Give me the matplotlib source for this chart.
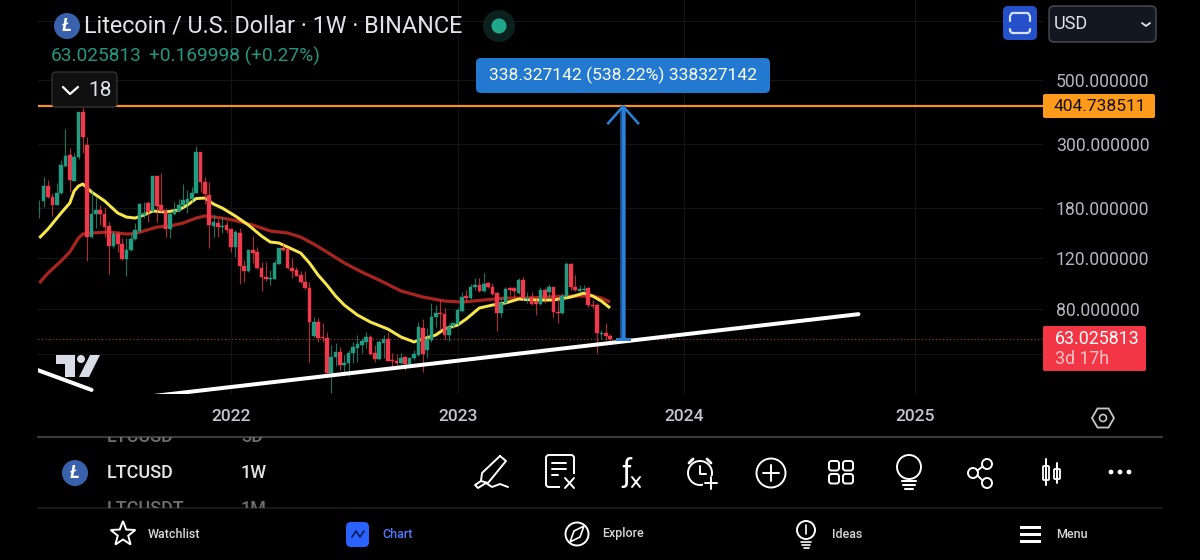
import numpy as np
import pandas as pd
import matplotlib
matplotlib.use('Agg')
import matplotlib.pyplot as plt
import matplotlib.dates as mdates
from matplotlib.patches import Circle, FancyBboxPatch, Polygon, Rectangle

plt.rcParams['font.family'] = ['Roboto', 'DejaVu Sans']

# weekly LTC candles, first bar 2021-03-01
first_week = '2021-03-01'
candle_open = [
    176.7, 190, 214, 196, 184, 202.3, 251, 274.5, 223, 269.6,
    387, 297, 142.4, 171, 176.7, 171, 155.5, 132.5, 145.8, 134.6,
    119.4, 128.3, 140.1, 149.4, 169.8, 186.8, 175.3, 232, 184, 175.3,
    151.8, 171, 175.3, 184, 186.8, 193, 202.3, 281, 221, 199.3,
    155.5, 159.2, 154.2, 156.7, 151.8, 131.5, 147, 113, 108.6, 128.3,
    126.3, 111.2, 103.5, 101.9, 101.9, 114.8, 130.4, 129.3, 111.2, 109.4,
    105.2, 99.4, 94.8, 64.5, 72.2, 64, 63.5, 48, 54.6, 56.8,
    51.2, 52, 56.4, 58.7, 60, 61.5, 64, 56.4, 53.7, 61,
    63, 53.2, 52.8, 52, 54.6, 51.6, 54.2, 55.5, 68.8, 57.7,
    62.5, 75.1, 77.6, 76.9, 65, 69.9, 71, 78.8, 88.9, 87.5,
    95.5, 97, 92.5, 98.6, 95.5, 91, 77.6, 84, 94.8, 94.8,
    91, 101, 86.8, 88.2, 84.6, 83.3, 93.2, 91.8, 95.5, 78.2,
    77.6, 88.9, 114.8, 95.5, 92.5, 93.2, 94.8, 82.7, 82.7, 65.6,
    66.2, 64.5]
candle_high = [
    191.4, 230, 224.7, 202.3, 219.3, 263.6, 338, 290, 279, 387,
    403, 316.8, 207.4, 196, 184, 181, 160.5, 149.4, 149.4, 141.3,
    141.3, 145.8, 159.2, 186.8, 188.3, 190, 232, 232, 237.5, 179.5,
    174, 188.3, 193, 217.5, 207.4, 212.5, 295, 281, 230, 221,
    171, 164.4, 167, 161.8, 151.8, 150.6, 153, 118.5, 128.3, 143.5,
    131.5, 116.6, 116.6, 109.4, 118.5, 130.4, 135.7, 130.4, 120.4, 112,
    108.6, 108.6, 99.4, 75.1, 74.5, 71.6, 66.7, 60, 61, 59.1,
    55.5, 57.7, 61.5, 65, 63.5, 66.7, 65, 60, 62.5, 65,
    66.7, 56.4, 56, 56.4, 55, 54.6, 57.7, 72.2, 73.9, 68.8,
    84, 82.7, 86, 80.7, 71.6, 72.2, 80.7, 91.8, 93.2, 97.8,
    102.7, 102.7, 106.9, 99.4, 98.6, 91.8, 88.2, 95.5, 95.5, 95.5,
    102.7, 103.5, 91.8, 91.8, 87.5, 95.5, 94.8, 97.8, 95.5, 87.5,
    91, 116.6, 115.7, 105.2, 97, 97, 95.5, 86, 84, 67.7,
    71.6, 65.6]
candle_low = [
    165.7, 181, 194.5, 168.4, 184, 200.8, 249, 204, 223, 265,
    279, 117.5, 141.3, 153, 156.7, 142.4, 106, 130.4, 126.3, 118.5,
    104.4, 127.3, 139, 148.2, 165.7, 160.5, 174, 160.5, 174, 142.4,
    141.3, 169.8, 174, 181, 172.5, 188.3, 202.3, 204, 185.3, 130.4,
    142.4, 142.4, 147, 147, 126.3, 121.4, 97.8, 99.4, 107.7, 115.7,
    110.3, 92.5, 100.2, 97, 101.9, 114.8, 127.3, 110.3, 102.7, 104.4,
    98.6, 94, 52.4, 64, 61.5, 61.5, 48, 40.9, 50.8, 49.1,
    48.4, 46.9, 52, 52.4, 56.4, 58.7, 55.5, 52.4, 53.2, 54.2,
    52.8, 50.8, 51.2, 51.6, 49.1, 50.4, 53.2, 55, 48.4, 54.2,
    61.5, 69.4, 67.7, 62.5, 62, 68.8, 70.4, 78.2, 84.6, 86.8,
    93.2, 91.8, 91.8, 94.8, 89.6, 67.2, 75.1, 84, 89.6, 87.5,
    90.3, 86, 84, 82.7, 76.3, 82.7, 84, 87.5, 75.1, 71.6,
    76.9, 88.2, 93.2, 92.5, 91.8, 91.8, 81.4, 80.7, 56.4, 63,
    62.5, 62.5]
candle_close = [
    176.7, 214, 196, 184, 202.3, 253, 272, 224.7, 269.6, 387,
    316.8, 142.4, 171, 176.7, 171, 154.2, 132.5, 145.8, 134.6, 119.4,
    128.3, 140.1, 150.6, 185.3, 172.5, 174, 232, 182.4, 175.3, 151.8,
    171, 175.3, 184, 191.4, 193, 202.3, 281, 221, 200.8, 156.7,
    160.5, 154.2, 155.5, 150.6, 131.5, 148.2, 113, 108.6, 128.3, 125.2,
    111.2, 103.5, 101.9, 102.7, 115.7, 130.4, 128.3, 111.2, 108.6, 104.4,
    99.4, 94.8, 72.2, 72.2, 63.5, 63.5, 48, 54.6, 56.8, 51.2,
    52, 56.4, 59.1, 60.5, 62, 64, 56, 53.7, 61.5, 63,
    52.8, 52.8, 52, 54.2, 51.6, 54.2, 56, 69.4, 56, 63,
    75.1, 77.6, 76.9, 65, 69.4, 71.6, 79.4, 88.2, 87.5, 95.5,
    97, 92.5, 97.8, 95.5, 90.3, 77.6, 84, 94, 93.2, 92.5,
    101, 87.5, 87.5, 83.3, 83.3, 93.2, 87.5, 95.5, 78.2, 77.6,
    88.9, 114.8, 95.5, 93.2, 94, 94, 82.7, 82, 66.2, 66.2,
    64.5, 63.03]

# moving averages, read at these bar numbers
ema_weeks = [0, 2, 5, 7, 8, 9, 10, 12, 15, 18, 20, 22, 24, 26, 29, 32, 34, 36, 38, 40,
             42, 45, 48, 51, 53, 55, 58, 60, 62, 64, 66, 68, 70, 73, 76, 80, 83, 86, 88, 91,
             93, 96, 98, 101, 104, 107, 110, 114, 118, 122, 125, 127, 129, 131]
ema_values = [141.3, 151.8, 172.5, 186.8, 205.7, 214.1, 217.5, 204.1, 189.9, 172.5,
              167, 165.7, 169.8, 175.3, 173.9, 176.7, 183.9, 193.7, 194.5, 185.3,
              179.5, 168.4, 156.7, 143.5, 136.8, 135.7, 129.3, 125.2, 115.7, 105,
              97, 88.8, 82.6, 76.3, 72.1, 68.2, 64, 61.5, 63, 65,
              68.2, 70.4, 73.9, 80.7, 82.6, 84, 86.7, 86, 86, 88.1,
              90.9, 88.8, 85.3, 80.7]
ma_weeks = [0, 2, 5, 7, 9, 10, 12, 16, 20, 22, 24, 27, 30, 33, 36, 38, 42, 45, 49, 53,
            57, 60, 63, 66, 70, 74, 78, 83, 88, 93, 97, 102, 107, 112, 117, 122, 127, 129, 131]
ma_values = [98.5, 106.7, 117.5, 126.3, 141.3, 145.8, 147, 148.2, 145.8, 146.4,
             149.4, 154.2, 155.5, 159.2, 165.7, 168.4, 165.7, 162.4, 156.7, 149.4,
             147, 142.3, 134.6, 126.3, 115.7, 107.6, 100.9, 92.5, 88.1, 85.3,
             84.6, 86, 87.4, 87.4, 88.1, 88.8, 88.8, 87.4, 84.6]

# drawings on the chart
trend_dates = ['2021-07-05', '2024-10-07']
trend_prices = [38.6, 76.8]
old_trend_dates = ['2021-02-22', '2021-05-24']
old_trend_prices = [49.5, 41.9]
target_price = 404.738511
last_price = 63.025813
arrow_date = '2023-09-25'
arrow_wing_dates = ['2023-09-01', '2023-10-19']
arrow_wing_price = 354

price_ticks = [500, 300, 180, 120, 80]
price_tick_labels = ['500.000000', '300.000000', '180.000000', '120.000000', '80.000000']
extra_grid = [800, 56]
year_ticks = ['2022-01-03', '2023-01-02', '2024-01-01', '2025-01-06']
year_labels = ['2022', '2023', '2024', '2025']

GREEN = '#1f9c82'
RED = '#f0394a'
BG = '#000000'
GRID = '#141414'
BLUE = '#2a80d6'
PX = 1 / 1.389   # points per pixel at dpi 100

fig = plt.figure(figsize=(12, 5.6), dpi=100, facecolor=BG)
ax = fig.add_axes([38 / 1200, 1 - 394 / 560, 1005 / 1200, 394 / 560], facecolor=BG)

weeks = mdates.date2num(pd.date_range(first_week, periods=len(candle_open), freq='7D'))
o, h, l, c = map(np.array, (candle_open, candle_high, candle_low, candle_close))
colors = np.where(c >= o, GREEN, RED)

ax.set_yscale('log')
# 125 px per e-fold of price, 500 sits at y=80 px
ax.set_ylim(500 * np.exp(-314 / 125), 500 * np.exp(80 / 125))
px_day = 4.357 / 7
x_left = weeks[0] - 1.3 / px_day
ax.set_xlim(x_left, x_left + 1005 / px_day)

ax.set_yticks(price_ticks, price_tick_labels)
ax.set_yticks(extra_grid, [''] * len(extra_grid), minor=True)
ax.set_xticks(mdates.date2num(pd.to_datetime(year_ticks)), year_labels)
ax.yaxis.tick_right()
ax.tick_params(axis='y', which='both', length=0, pad=13 * PX, labelsize=12.7, labelcolor='#b4b6bc')
ax.tick_params(axis='x', length=0, pad=15 * PX, labelsize=12.5, labelcolor='#c4c6cc')
for lab in ax.get_xticklabels():
    lab.set_fontweight('medium')
ax.grid(True, which='both', color=GRID, lw=0.8)
ax.set_axisbelow(True)
for s in ax.spines.values():
    s.set_visible(False)

ax.plot(weeks[ma_weeks], ma_values, color='#a8241f', lw=3.2 * PX, zorder=2, solid_capstyle='butt')
ax.plot(weeks[ema_weeks], ema_values, color='#f7e64a', lw=3 * PX, zorder=2.1, solid_capstyle='butt')

ax.vlines(weeks, l, h, colors=colors, lw=1.1 * PX, alpha=0.75, zorder=3)
ax.bar(weeks, np.abs(c - o), bottom=np.minimum(o, c), width=5.8, color=colors,
       edgecolor=colors, linewidth=0.3, zorder=3.1)

ax.axhline(target_price, color='#f5931e', lw=2.2 * PX, zorder=4)
ax.axhline(last_price, color='#a04040', lw=1.1 * PX, ls=(0, (1, 2.2)), zorder=1.5)

white = dict(color='white', lw=4 * PX, solid_capstyle='round', zorder=5)
ax.plot(pd.to_datetime(trend_dates), trend_prices, **white)
ax.plot(pd.to_datetime(old_trend_dates), old_trend_prices, **white)

arrow_x = mdates.date2num(pd.Timestamp(arrow_date))
ax.plot([arrow_x, arrow_x], [last_price, target_price], color='#174a80', lw=6 * PX, zorder=5.5, solid_capstyle='butt')
ax.plot([arrow_x, arrow_x], [last_price, target_price], color=BLUE, lw=3.4 * PX, zorder=5.6, solid_capstyle='butt')
wing_x = mdates.date2num(pd.to_datetime(arrow_wing_dates))
ax.plot([wing_x[0], arrow_x, wing_x[1]], [arrow_wing_price, target_price, arrow_wing_price],
        color=BLUE, lw=2.6 * PX, zorder=5.6)
ax.plot([arrow_x - 6 / px_day, arrow_x + 6 / px_day], [last_price, last_price], color=BLUE, lw=3 * PX, zorder=5.6)

# screen furniture in pixel coordinates
ui = fig.add_axes([0, 0, 1, 1], facecolor='none')
ui.set_xlim(0, 1200)
ui.set_ylim(560, 0)
ui.axis('off')


def box(x0, y0, x1, y1, r, face, edge='none', lw=0, z=6):
    ui.add_patch(FancyBboxPatch((x0 + r, y0 + r), x1 - x0 - 2 * r, y1 - y0 - 2 * r,
                                boxstyle=f'round,pad={r},rounding_size={r}',
                                fc=face, ec=edge, lw=lw, zorder=z))


def label(x, y, s, size, color='white', ha='left', weight='normal', z=7):
    return ui.text(x, y, s, fontsize=size, color=color, ha=ha, va='center', fontweight=weight, zorder=z)


def stroke(xs, ys, color='white', lw=1.4, z=7):
    ui.plot(xs, ys, color=color, lw=lw, zorder=z, solid_capstyle='round', solid_joinstyle='round')


def ring(x, y, r, color='white', lw=1.4, face='none', z=7):
    ui.add_patch(Circle((x, y), r, fc=face, ec=color, lw=lw, zorder=z))


def ltc_logo(x, y, r, size):
    ring(x, y, r, color='none', lw=0, face='#3a62ac')
    ui.text(x, y, 'Ł', fontsize=size, color='white', fontweight='bold', fontstyle='italic',
            ha='center', va='center', zorder=8)


# header
ltc_logo(67, 26, 13, 13)
label(84, 26, 'Litecoin / U.S. Dollar · 1W · BINANCE', 16.85, '#e2e3e8')
ring(499, 26, 16, color='none', lw=0, face='#0c211d')
ring(499, 26, 7.5, color='none', lw=0, face='#1fa88c')
label(51, 56, '63.025813', 13.8, '#22977f')
label(149, 56, '+0.169998 (+0.27%)', 13.8, '#22977f')

box(52, 72, 117, 107, 4, '#101010', '#3a3a3a', 0.8)
stroke([63, 70, 78], [87, 94, 87], lw=1.6)
label(88, 90, '18', 15, '#e2e3e8')

box(476, 58, 770, 93, 5, '#2279cf')
label(623, 75.5, '338.327142 (538.22%) 338327142', 12.6, 'white', ha='center')

box(1003, 6, 1037, 40, 5, '#2451c9')
stroke([1010, 1010, 1012, 1028, 1030, 1030], [21, 16, 13, 13, 16, 21], '#d8def5', 1.6)
stroke([1010, 1010, 1012, 1028, 1030, 1030], [29, 31, 33, 33, 31, 29], '#d8def5', 1.6)
box(1049, 6, 1156, 42, 5, '#131722', '#4a4d55', 1)
label(1054, 24, 'USD', 13, '#e2e3e8')
stroke([1142, 1146, 1150], [23, 26, 23], '#e2e3e8', 1.3)

# price tags
box(1043, 94, 1155, 118, 2, '#ff9a1a')
label(1100, 106.5, '404.738511', 12.5, '#111111', ha='center')
box(1043, 326, 1146, 371, 2, '#f23645')
label(1055, 339, '63.025813', 12.8, 'white')
label(1055, 359, '3d 17h', 12.8, '#f7c4c8')

hex_t = np.deg2rad(np.arange(0, 360, 60))
ui.add_patch(Polygon(np.c_[1103 + 11 * np.cos(hex_t), 418 + 11 * np.sin(hex_t)], fc='none', ec='#c8c8c8', lw=1.3))
ring(1103, 418, 3.5, color='#c8c8c8', lw=1.2)

# TradingView mark
logo_col = '#d9dce6'
ui.add_patch(Polygon([(56, 355), (75, 355), (75, 377), (65, 377), (65, 364), (56, 364)], fc=logo_col, ec='none', zorder=6))
ring(81, 359, 4, color='none', lw=0, face=logo_col, z=6)
ui.add_patch(Polygon([(90, 355), (100, 355), (89, 377), (79, 377)], fc=logo_col, ec='none', zorder=6))

# symbol row, with the list rows half hidden behind it
stroke([38, 1162], [437, 437], '#3c3c3c', 1.6)
stroke([38, 1162], [508, 508], '#202020', 1.1)
for x, s, y, clip in [(107, 'LTCUSD', 437, (0, 437, 600, 20)), (241, '3D', 437, (0, 437, 600, 20)),
                      (107, 'LTCUSDT', 509, (0, 490, 600, 18)), (241, '1M', 509, (0, 490, 600, 18))]:
    t = label(x, y, s, 13, '#6e6e6e', weight='medium')
    t.set_clip_path(Rectangle(clip[:2], clip[2], clip[3], transform=ui.transData))
    t.set_clip_on(True)
ltc_logo(75, 473, 13, 13)
label(107, 473, 'LTCUSD', 13, '#e4e4e4', weight='medium')
label(241, 473, '1W', 13, '#e4e4e4', weight='medium')

# toolbar icons
stroke([500, 506, 488, 481, 482, 500], [456, 461, 483, 481, 473, 456])
stroke([481, 475, 478, 486, 492, 500, 508], [481, 485, 488, 483, 487, 484, 487])
box(546, 455, 574, 487, 3, 'none', 'white', 1.4)
ui.add_patch(Rectangle((560, 474), 18, 15, fc=BG, ec='none', zorder=6.5))
for yy in (463, 469, 475):
    stroke([552, 566 if yy < 475 else 558], [yy, yy])
stroke([565, 574], [478, 488])
stroke([574, 565], [478, 488])
label(621, 472, 'ƒ', 22, 'white')
stroke([632, 640], [477, 487])
stroke([640, 632], [477, 487])
ring(700, 473, 12)
ui.add_patch(Rectangle((703, 476), 14, 13, fc=BG, ec='none', zorder=7.2))
stroke([689, 693], [463, 459], lw=2)
stroke([711, 707], [463, 459], lw=2)
stroke([700, 700, 706], [466, 474, 474])
stroke([711, 711], [477, 489], z=7.3)
stroke([705, 717], [483, 483], z=7.3)
ring(771, 473, 14.5)
stroke([771, 771], [465, 481])
stroke([763, 779], [473, 473])
for xx in (829, 843):
    for yy in (461, 474):
        box(xx, yy, xx + 10, yy + 9.5, 2.5, 'none', 'white', 1.4)
ring(909, 467, 12)
for w, yy in ((7, 481), (6, 485), (4, 489)):
    stroke([909 - w, 909 + w], [yy, yy], lw=1.5)
ring(987, 464, 5)
ring(987, 483, 5)
ring(973, 473, 5)
stroke([977.5, 982.5], [470.5, 466.5])
stroke([977.5, 982.5], [475.5, 480.5])
box(1043, 466, 1049, 480, 1, 'none', 'white', 1.3)
box(1054, 469, 1060, 479, 1, 'none', 'white', 1.3)
stroke([1046, 1046], [459, 485])
stroke([1057, 1057], [463, 483])
for xx in (1111, 1120, 1129):
    ring(xx, 472, 2.4, color='none', lw=0, face='white')

# bottom navigation
star_t = np.deg2rad(np.arange(-90, 270, 36))
star_r = np.where(np.arange(10) % 2 == 0, 13, 5.5)
ui.add_patch(Polygon(np.c_[123 + star_r * np.cos(star_t), 534 + star_r * np.sin(star_t)], fc='none', ec='white', lw=1.4))
label(148, 534, 'Watchlist', 9, '#d8d8d8', weight='medium')
box(346, 522, 369, 547, 5, '#2962ff')
stroke([352, 356, 360, 364], [537, 531, 537, 531], '#0a1a50', 1.2)
label(382, 534, 'Chart', 9, '#4e7bff', weight='medium')
ring(577, 534, 11.5)
ui.add_patch(Polygon([(584, 526), (580, 537), (570, 542), (574, 531)], fc='none', ec='white', lw=1.2))
label(602, 534, 'Explore', 9, '#d8d8d8', weight='medium')
ring(806, 530, 9)
stroke([806, 806], [525, 534], lw=1.2)
for w, yy in ((5, 542), (4, 545), (2.5, 548)):
    stroke([806 - w, 806 + w], [yy, yy], lw=1.2)
label(832, 534, 'Ideas', 9, '#d8d8d8', weight='medium')
for yy in (527, 534, 541):
    ui.add_patch(Rectangle((1020, yy - 1.5), 21, 3, fc='white', ec='none'))
label(1056, 534, 'Menu', 9, '#d8d8d8', weight='medium')

fig.savefig('out.png', dpi=100, facecolor=BG)
